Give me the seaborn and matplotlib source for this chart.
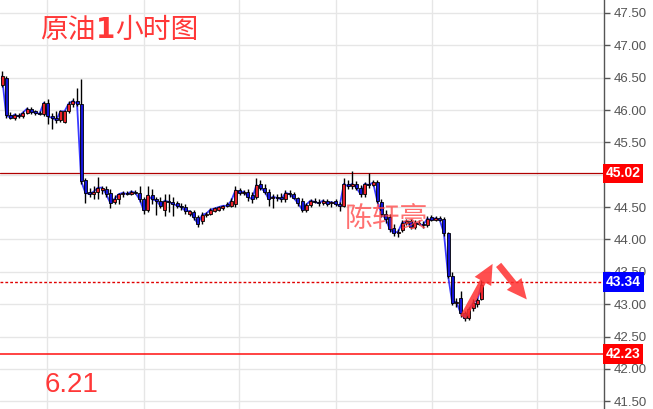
import matplotlib
matplotlib.use("Agg")
import matplotlib.pyplot as plt
import matplotlib.transforms as mtransforms
import numpy as np
import pandas as pd
import seaborn as sns

# hourly crude oil candles (open, high, low, close)
opens = [46.38, 46.50, 45.92, 45.88, 45.93, 45.90, 45.96, 46.02, 45.97, 45.96,
         45.94, 46.11, 45.90, 45.88, 45.84, 45.82, 45.98, 46.10, 46.14, 46.10,
         44.92, 44.74, 44.70, 44.74, 44.76, 44.78, 44.72, 44.58, 44.62, 44.70,
         44.72, 44.70, 44.74, 44.72, 44.62, 44.45, 44.68, 44.62, 44.60, 44.46,
         44.60, 44.58, 44.56, 44.52, 44.50, 44.40, 44.42, 44.34, 44.28, 44.38,
         44.40, 44.44, 44.46, 44.48, 44.54, 44.52, 44.55, 44.76, 44.72, 44.74,
         44.68, 44.66, 44.86, 44.80, 44.74, 44.64, 44.66, 44.66, 44.62, 44.72,
         44.70, 44.64, 44.60, 44.46, 44.54, 44.60, 44.58, 44.56, 44.60, 44.56,
         44.60, 44.55, 44.52, 44.86, 44.82, 44.86, 44.80, 44.70, 44.86, 44.84,
         44.88, 44.58, 44.40, 44.34, 44.18, 44.10, 44.14, 44.26, 44.28, 44.20,
         44.26, 44.24, 44.22, 44.34, 44.30, 44.33, 44.32, 44.10, 43.44, 43.02,
         43.10, 42.86, 42.78, 42.94, 43.00, 43.08]
highs = [46.60, 46.52, 45.97, 45.95, 45.96, 45.98, 46.05, 46.04, 46.00, 45.98,
         46.14, 46.17, 45.96, 45.98, 46.00, 46.00, 46.14, 46.18, 46.34, 46.48,
         44.95, 44.80, 44.82, 44.97, 44.82, 44.82, 44.78, 44.68, 44.72, 44.75,
         44.75, 44.76, 44.77, 44.82, 44.66, 44.82, 44.78, 44.66, 44.65, 44.70,
         44.70, 44.66, 44.60, 44.56, 44.55, 44.46, 44.46, 44.38, 44.42, 44.42,
         44.48, 44.50, 44.52, 44.54, 44.58, 44.64, 44.82, 44.80, 44.76, 44.78,
         44.74, 44.95, 44.92, 44.86, 44.78, 44.70, 44.70, 44.72, 44.76, 44.76,
         44.74, 44.66, 44.64, 44.56, 44.62, 44.64, 44.62, 44.62, 44.62, 44.60,
         44.62, 44.58, 44.95, 44.92, 45.05, 44.90, 44.84, 44.88, 45.02, 44.92,
         44.92, 44.62, 44.46, 44.40, 44.24, 44.16, 44.30, 44.32, 44.32, 44.30,
         44.30, 44.28, 44.36, 44.38, 44.36, 44.36, 44.34, 44.12, 43.50, 43.10,
         43.20, 42.90, 42.96, 43.08, 43.10, 43.38]
lows = [46.35, 45.88, 45.86, 45.85, 45.88, 45.88, 45.94, 45.94, 45.93, 45.92,
        45.90, 45.78, 45.70, 45.80, 45.82, 45.80, 45.96, 46.05, 46.06, 44.86,
        44.57, 44.66, 44.62, 44.62, 44.70, 44.66, 44.48, 44.55, 44.55, 44.66,
        44.68, 44.68, 44.70, 44.58, 44.40, 44.42, 44.55, 44.38, 44.48, 44.36,
        44.42, 44.36, 44.48, 44.46, 44.40, 44.36, 44.30, 44.20, 44.24, 44.34,
        44.38, 44.42, 44.44, 44.46, 44.50, 44.50, 44.50, 44.68, 44.68, 44.60,
        44.56, 44.62, 44.76, 44.70, 44.52, 44.48, 44.60, 44.58, 44.58, 44.66,
        44.62, 44.52, 44.42, 44.42, 44.50, 44.56, 44.52, 44.54, 44.52, 44.50,
        44.52, 44.44, 44.50, 44.78, 44.78, 44.76, 44.66, 44.66, 44.80, 44.82,
        44.56, 44.34, 44.26, 44.12, 44.06, 44.04, 44.12, 44.22, 44.16, 44.16,
        44.22, 44.18, 44.20, 44.28, 44.28, 44.28, 44.06, 43.40, 42.98, 42.96,
        42.80, 42.74, 42.76, 42.90, 42.96, 43.06]
closes = [46.52, 45.92, 45.88, 45.93, 45.90, 45.96, 46.02, 45.97, 45.96, 45.94,
          46.11, 45.90, 45.88, 45.84, 45.98, 45.98, 46.10, 46.14, 46.10, 44.90,
          44.72, 44.70, 44.74, 44.80, 44.80, 44.70, 44.56, 44.63, 44.70, 44.72,
          44.70, 44.74, 44.72, 44.62, 44.45, 44.68, 44.62, 44.60, 44.52, 44.60,
          44.58, 44.55, 44.52, 44.50, 44.44, 44.44, 44.34, 44.24, 44.38, 44.40,
          44.46, 44.48, 44.50, 44.52, 44.52, 44.60, 44.76, 44.72, 44.74, 44.66,
          44.62, 44.84, 44.80, 44.74, 44.62, 44.66, 44.64, 44.62, 44.72, 44.70,
          44.64, 44.56, 44.46, 44.54, 44.60, 44.58, 44.56, 44.60, 44.55, 44.58,
          44.55, 44.52, 44.86, 44.82, 44.86, 44.80, 44.70, 44.86, 44.84, 44.88,
          44.60, 44.40, 44.32, 44.16, 44.10, 44.12, 44.26, 44.28, 44.20, 44.26,
          44.24, 44.22, 44.32, 44.30, 44.33, 44.30, 44.10, 43.44, 43.02, 43.04,
          42.86, 42.78, 42.92, 43.02, 43.06, 43.30]

price_ticks = [41.5, 42.0, 42.5, 43.0, 43.5, 44.0, 44.5, 45.0, 45.5, 46.0, 46.5, 47.0, 47.5]
hidden_tick = 45.0  # covered by the resistance label
day_breaks = [10.8, 34.0, 56.8, 80.1, 103.1, 128.3]

resistance = 45.02
last_price = 43.34
support = 42.23

title_parts = ["原油", "1", "小时图"]
author_text = "陈轩豪"
date_text = "6.21"

# forecast arrows (candle index, price)
arrow_up = [(110.3, 42.76), (118.0, 43.66)]
arrow_down = [(118.7, 43.64), (126.3, 43.04)]

df = pd.DataFrame({"open": opens, "high": highs, "low": lows, "close": closes})
df["idx"] = np.arange(len(df))

sns.set_theme(style="white")
plt.rcParams["font.family"] = ["Noto Sans CJK SC", "DejaVu Sans"]

fig = plt.figure(figsize=(6.53, 4.09), dpi=100)
ax = fig.add_axes([0, 0, 604 / 653, 1])

ax.set_xlim(-0.48, 144.4)
ax.set_ylim(41.38, 47.70)

# grid
for p in price_ticks:
    ax.axhline(p, color="#e6e6e6", lw=1, zorder=0)
for d in day_breaks:
    ax.axvline(d, color="#e6e6e6", lw=1, zorder=0)

# close line
sns.lineplot(data=df, x="idx", y="close", ax=ax, color="#3a3aff", lw=1.3, zorder=2)

# candles
up = df["close"] >= df["open"]
ax.vlines(df["idx"], df["low"], df["high"], color="black", lw=1, zorder=3)
body_lo = np.minimum(df["open"], df["close"])
body_h = np.maximum(np.abs(df["close"] - df["open"]), 0.02)
ax.bar(df["idx"], body_h, bottom=body_lo, width=0.72,
       color=np.where(up, "#e8222a", "#1414d8"), edgecolor="black", lw=0.6, zorder=4)

# level lines
ax.axhline(resistance, color="#b00000", lw=0.9, zorder=1)
ax.axhline(last_price, color="#e00000", lw=1, ls=(0, (2, 1.5)), zorder=1)
ax.axhline(support, color="#ff1010", lw=1.1, zorder=1)

# arrows
arrow_kw = dict(arrowstyle="simple,head_length=0.9,head_width=0.85,tail_width=0.3",
                color="#ff3030", alpha=0.85, lw=0, mutation_scale=16)
ax.annotate("", xy=arrow_up[1], xytext=arrow_up[0], arrowprops=arrow_kw, zorder=6)
ax.annotate("", xy=arrow_down[1], xytext=arrow_down[0], arrowprops=arrow_kw, zorder=6)

# right axis
for s in ["top", "left", "bottom"]:
    ax.spines[s].set_visible(False)
ax.spines["right"].set_color("#555555")
ax.spines["right"].set_linewidth(1)
ax.yaxis.tick_right()
ax.set_yticks(price_ticks)
ax.set_yticklabels(["" if p == hidden_tick else f"{p:.2f}" for p in price_ticks],
                   fontsize=9.5, color="#555555", family=["Liberation Sans", "DejaVu Sans"])
ax.tick_params(axis="y", direction="out", length=4, width=1, color="#555555", pad=3)
ax.set_xticks([])
ax.set_xlabel("")
ax.set_ylabel("")

trans = mtransforms.blended_transform_factory(ax.transAxes, ax.transData)
for val, col in [(resistance, "#ff0000"), (last_price, "#0000ff"), (support, "#ff0000")]:
    ax.text(1.003, val, f"{val:.2f}", transform=trans, ha="left", va="center",
            fontsize=10, color="white", fontweight="bold",
            family=["Liberation Sans", "DejaVu Sans"], clip_on=False, zorder=10,
            bbox=dict(boxstyle="square,pad=0.2", fc=col, ec="none"))

# title, with the digit in bold
t = ax.text(40 / 604, 1 - 30 / 409, title_parts[0], transform=ax.transAxes,
            ha="left", va="center", fontsize=20, color="#ff3838")
for i, part in enumerate(title_parts[1:]):
    t = ax.annotate(part, xycoords=t, xy=(1, 0.5), va="center", ha="left",
                    fontsize=20, color="#ff3838",
                    fontweight="bold" if i == 0 else "normal",
                    family=["DejaVu Sans"] if i == 0 else ["Noto Sans CJK SC", "DejaVu Sans"])

ax.text(345 / 604, 1 - 220 / 409, author_text, transform=ax.transAxes, ha="left", va="center",
        fontsize=20, color="#ff4040", alpha=0.75, zorder=7)
ax.text(45 / 604, 1 - 385 / 409, date_text, transform=ax.transAxes, ha="left", va="center",
        fontsize=20, color="#ff3838", family=["Liberation Sans", "DejaVu Sans"])

fig.savefig("out.png", dpi=100)
